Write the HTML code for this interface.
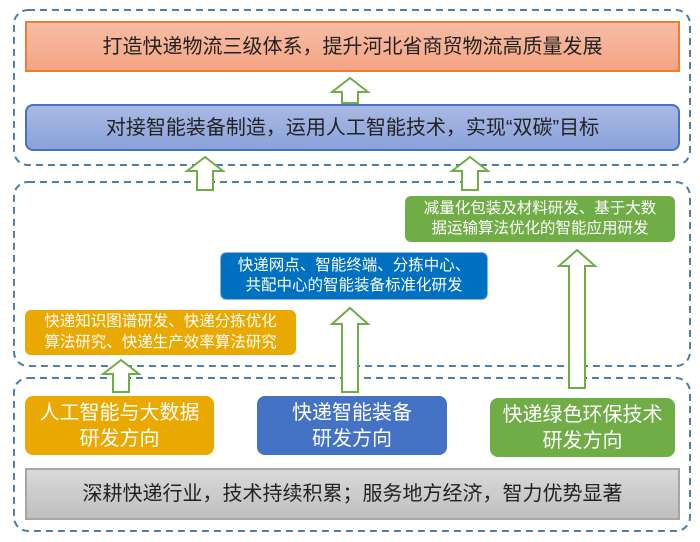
<!DOCTYPE html>
<html><head><meta charset="utf-8"><style>
body{margin:0;width:700px;height:542px;background:#fff;position:relative;overflow:hidden;font-family:"Liberation Sans","Noto Sans CJK SC",sans-serif}
.b{position:absolute;box-sizing:border-box;display:flex;align-items:center;justify-content:center;text-align:center;line-height:1.3;white-space:nowrap}
svg{position:absolute;left:0;top:0}
</style></head><body>
<svg width="700" height="542">
<rect x="14" y="10" width="676" height="155" rx="14" fill="none" stroke="#4f7ea8" stroke-width="2" stroke-dasharray="7,5"/>
<rect x="14" y="182" width="676" height="184" rx="14" fill="none" stroke="#4f7ea8" stroke-width="2" stroke-dasharray="7,5"/>
<rect x="14" y="378" width="676" height="153" rx="14" fill="none" stroke="#4f7ea8" stroke-width="2" stroke-dasharray="7,5"/>
<g fill="#fff" stroke="#70ad47" stroke-width="2">
<polygon points="350,78 368,92 358,92 358,103 342,103 342,92 332,92"/>
<polygon points="205,157 223,171 213,171 213,190 197,190 197,171 187,171"/>
<polygon points="470,157 488,171 478,171 478,190 462,190 462,171 452,171"/>
<polygon points="121,360 139,374 129,374 129,392 113,392 113,374 103,374"/>
<polygon points="350,308 368,324 358,324 358,392 342,392 342,324 332,324"/>
<polygon points="577,250 595,266 585,266 585,388 569,388 569,266 559,266"/>
</g>
</svg>
<div class="b" style="left:25px;top:21px;width:655px;height:51px;background:linear-gradient(#f7bda6,#f4a482);border:2px solid #ed7d31;font-size:20px;color:#222">打造快递物流三级体系，提升河北省商贸物流高质量发展</div>
<div class="b" style="left:25px;top:104px;width:655px;height:47px;background:linear-gradient(#a9b9e4,#8aa2da);border:2px solid #4472c4;border-radius:8px;font-size:20px;color:#222">对接智能装备制造，运用人工智能技术，实现“双碳”目标</div>
<div class="b" style="left:405px;top:196px;width:270px;height:46px;background:#70ad47;border-radius:6px;font-size:15.5px;color:#fff">减量化包装及材料研发、基于大数<br>据运输算法优化的智能应用研发</div>
<div class="b" style="left:220px;top:252px;width:268px;height:48px;background:#0070c0;border:1px solid #8fb4e3;border-radius:6px;font-size:15.5px;color:#fff">快递网点、智能终端、分拣中心、<br>共配中心的智能装备标准化研发</div>
<div class="b" style="left:25px;top:310px;width:271px;height:45px;background:#e9a900;border-radius:6px;font-size:15.5px;color:#fff">快递知识图谱研发、快递分拣优化<br>算法研究、快递生产效率算法研究</div>
<div class="b" style="left:25px;top:396px;width:189px;height:59px;background:#e9a900;border-radius:8px;font-size:20px;color:#fff">人工智能与大数据<br>研发方向</div>
<div class="b" style="left:257px;top:396px;width:190px;height:59px;background:#4472c4;border-radius:8px;font-size:20px;color:#fff">快递智能装备<br>研发方向</div>
<div class="b" style="left:490px;top:398px;width:185px;height:59px;background:#70ad47;border-radius:8px;font-size:20px;color:#fff">快递绿色环保技术<br>研发方向</div>
<div class="b" style="left:25px;top:468px;width:655px;height:52px;background:linear-gradient(#d9d9d9,#bfbfbf);border:2px solid #a6a6a6;font-size:20px;color:#222">深耕快递行业，技术持续积累；服务地方经济，智力优势显著</div>
</body></html>
